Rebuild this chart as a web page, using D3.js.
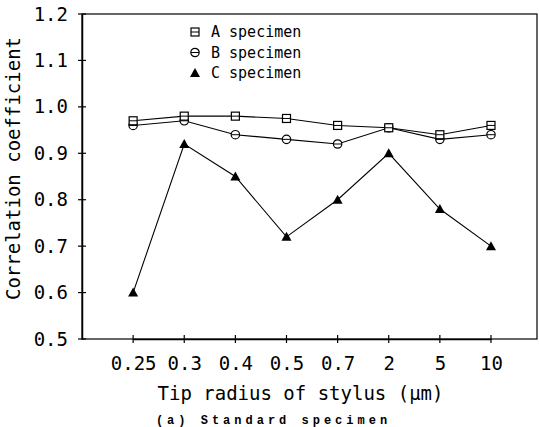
<!DOCTYPE html>
<html>
<head>
<meta charset="utf-8">
<script src="https://cdn.jsdelivr.net/npm/d3@7"></script>
<style>
  body { margin: 0; background: #fff; }
  text { font-family: "DejaVu Sans Mono", monospace; fill: #000; }
</style>
</head>
<body>
<div id="chart"></div>
<script>
// dados
const radii = ["0.25", "0.3", "0.4", "0.5", "0.7", "2", "5", "10"];
const specA = [0.97, 0.98, 0.98, 0.975, 0.96, 0.955, 0.94, 0.96];
const specB = [0.96, 0.97, 0.94, 0.93, 0.92, 0.955, 0.93, 0.94];
const specC = [0.60, 0.92, 0.85, 0.72, 0.80, 0.90, 0.78, 0.70];
const yTicks = [0.5, 0.6, 0.7, 0.8, 0.9, 1.0, 1.1, 1.2];

const margin = { top: 14, right: 2, bottom: 88, left: 82 },
    totalW = 539, totalH = 427,
    width = totalW - margin.left - margin.right,
    height = totalH - margin.top - margin.bottom;

const svg = d3.select("#chart").append("svg")
    .attr("width", totalW)
    .attr("height", totalH)
    .append("g")
    .attr("transform", `translate(${margin.left},${margin.top})`);

const step = width / 8.9;
const x = d3.scalePoint().domain(radii).range([step, step * 8]);
const y = d3.scaleLinear().domain([0.5, 1.2]).range([height, 0]);

// moldura
svg.append("rect")
    .attr("width", width).attr("height", height)
    .attr("fill", "none").attr("stroke", "#000").attr("stroke-width", 1.2);

// eixo Y (ticks cruzando o eixo)
const yAxis = svg.append("g")
    .call(d3.axisLeft(y).tickValues(yTicks).tickFormat(d3.format(".1f")).tickSize(0).tickPadding(14));
yAxis.select(".domain").attr("stroke-width", 1.5);
yAxis.selectAll("text").style("font-size", "19px");
svg.append("g").selectAll("line")
    .data(yTicks).join("line")
    .attr("x1", -4).attr("x2", 4)
    .attr("y1", d => y(d)).attr("y2", d => y(d))
    .attr("stroke", "#000").attr("stroke-width", 1.2);

// eixo X
const xAxis = svg.append("g")
    .attr("transform", `translate(0,${height})`)
    .call(d3.axisBottom(x).tickSize(0).tickPadding(18));
xAxis.select(".domain").attr("stroke-width", 1.5);
xAxis.selectAll("text").style("font-size", "19px");
svg.append("g").selectAll("line")
    .data(radii).join("line")
    .attr("x1", d => x(d)).attr("x2", d => x(d))
    .attr("y1", height - 4).attr("y2", height + 4)
    .attr("stroke", "#000").attr("stroke-width", 1.2);

// linhas
const line = d3.line().x((d, i) => x(radii[i])).y(d => y(d));
[specA, specB, specC].forEach(s => {
    svg.append("path")
        .datum(s)
        .attr("fill", "none")
        .attr("stroke", "#000")
        .attr("stroke-width", 1.1)
        .attr("d", line);
});

// marcadores
function drawSquare(g, px, py) {
    g.append("rect").attr("x", px - 4).attr("y", py - 4).attr("width", 8).attr("height", 8)
        .attr("fill", "#fff").attr("stroke", "#000").attr("stroke-width", 1.2);
    g.append("line").attr("x1", px - 4).attr("x2", px + 4).attr("y1", py).attr("y2", py)
        .attr("stroke", "#000").attr("stroke-width", 1);
}
function drawCircle(g, px, py) {
    g.append("circle").attr("cx", px).attr("cy", py).attr("r", 4.2)
        .attr("fill", "#fff").attr("stroke", "#000").attr("stroke-width", 1.2);
    g.append("line").attr("x1", px - 4).attr("x2", px + 4).attr("y1", py).attr("y2", py)
        .attr("stroke", "#000").attr("stroke-width", 1);
}
function drawTriangle(g, px, py) {
    g.append("path")
        .attr("d", `M${px},${py - 5}L${px + 5},${py + 4}L${px - 5},${py + 4}Z`)
        .attr("fill", "#000");
}

const marks = svg.append("g");
specB.forEach((v, i) => drawCircle(marks, x(radii[i]), y(v)));
specA.forEach((v, i) => drawSquare(marks, x(radii[i]), y(v)));
specC.forEach((v, i) => drawTriangle(marks, x(radii[i]), y(v)));

// legenda
const legendItems = [
    { label: "A specimen", draw: drawSquare },
    { label: "B specimen", draw: drawCircle },
    { label: "C specimen", draw: drawTriangle }
];
const legend = svg.append("g").attr("transform", "translate(113,18)");
legendItems.forEach((d, i) => {
    d.draw(legend, 0, i * 20.5);
    legend.append("text")
        .attr("x", 16).attr("y", i * 20.5)
        .attr("dy", "0.35em")
        .style("font-size", "15px")
        .text(d.label);
});

// rótulos dos eixos
svg.append("text")
    .attr("transform", "rotate(-90)")
    .attr("x", -height / 2 + 8)
    .attr("y", -62)
    .attr("text-anchor", "middle")
    .style("font-size", "19px")
    .text("Correlation coefficient");

svg.append("text")
    .attr("x", x("0.5") + 14)
    .attr("y", height + 61)
    .attr("text-anchor", "middle")
    .style("font-size", "19px")
    .text("Tip radius of stylus (μm)");

svg.append("text")
    .attr("x", x("0.5") - 13)
    .attr("y", height + 85)
    .attr("text-anchor", "middle")
    .style("font-family", "'Liberation Mono', monospace")
    .style("font-weight", "bold")
    .style("font-size", "12px")
    .style("letter-spacing", "4px")
    .text("(a) Standard specimen");
</script>
</body>
</html>
